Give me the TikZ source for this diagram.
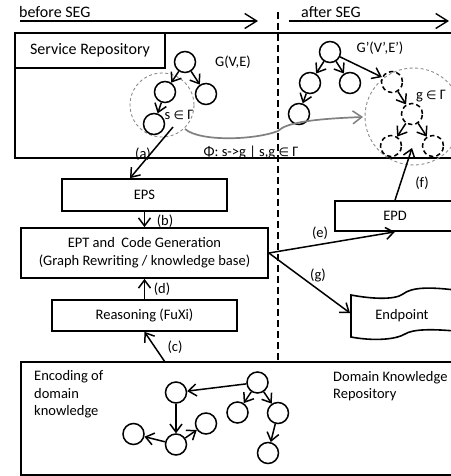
\documentclass[tikz,border=0pt]{standalone}
\usepackage{fontspec}
\setmainfont{Carlito}
\newfontfamily\symfont{DejaVu Sans}
\usetikzlibrary{arrows.meta,calc}
\newcommand{\elem}{{\symfont\fontsize{12}{14}\selectfont ∈}}
\begin{document}
\begin{tikzpicture}[x=1pt,y=-1pt,
  font=\fontsize{14.5}{17.7}\selectfont,
  bigfont/.style={font=\fontsize{16}{19}\selectfont},
  box/.style={draw, line width=1.7pt, inner sep=0pt, align=center},
  gn/.style={circle, draw, line width=1.5pt, minimum size=21pt, inner sep=0pt},
  dn/.style={gn, dash pattern=on 4.5pt off 3pt},
  arr/.style={line width=1.5pt, -{Straight Barb[length=8pt,width=12pt,line width=1.5pt]}},
  toparr/.style={line width=1.4pt, -{Straight Barb[length=12pt,width=15pt,line width=1.4pt]}},
  grayarr/.style={draw=black!50, line width=1.7pt, -{Straight Barb[length=9pt,width=13pt,line width=1.5pt]}},
  grayc/.style={circle, draw=black!45, line width=0.9pt, dash pattern=on 3pt off 2.5pt, inner sep=0pt},
  vdash/.style={line width=1.9pt, dash pattern=on 7pt off 4pt},
  lbl/.style={inner sep=0pt}]
\useasboundingbox (0,0) rectangle (450,476);

% top labels
\node[lbl, bigfont, anchor=west] (bs) at (19,12.5) {before SEG};
\node[lbl, bigfont, anchor=west] (as) at (301,12.5) {after SEG};
\coordinate (b1) at (20,21);
\coordinate (b2) at (258,21);
\coordinate (a1) at (289,21);
\coordinate (a2) at (449,21);
\draw[toparr] (b1) -- (b2);
\draw[toparr] (a1) -- (a2);

% service repository
\node[box, minimum width=441pt, minimum height=125pt] (sr) at (235.5,95.5) {};
\node[box, bigfont, minimum width=150pt, minimum height=35pt] (srl) at (90,50.5) {Service Repository};

% dashed separator
\coordinate (vt) at (278,12);
\coordinate (vb) at (278,362);
\draw[vdash] (vt) -- (vb);

% left graph
\node[grayc, minimum size=64pt] (sc) at (162,105) {};
\node[gn] (l1) at (185,62) {};
\node[gn] (l2) at (165,92) {};
\node[gn] (l3) at (206,94) {};
\node[gn] (l4) at (154,124) {};
\draw[arr] (l1) -- (l2);
\draw[arr] (l1) -- (l3);
\draw[arr] (l2) -- (l4);
\node[lbl] (sl) at (179,115) {s \elem\ Γ};
\node[lbl] (gl) at (233,62) {G(V,E)};

% right graph
\node[grayc, minimum size=97pt] (gc) at (413.5,116.5) {};
\node[gn] (r1) at (330,52) {};
\node[gn] (r2) at (310,83) {};
\node[gn] (r3) at (350,83) {};
\node[gn] (r4) at (299,114) {};
\node[dn] (d1) at (392,82) {};
\node[dn] (d2) at (412,114) {};
\node[dn] (d3) at (391,146) {};
\node[dn] (d4) at (433,146) {};
\draw[arr] (r1) -- (r2);
\draw[arr] (r1) -- (r3);
\draw[arr] (r1) -- (d1);
\draw[arr] (r2) -- (r4);
\draw[arr] (d1) -- (d2);
\draw[arr] (d2) -- (d3);
\draw[arr] (d2) -- (d4);
\node[lbl] (gpl) at (380,48) {G’(V’,E’)};
\node[lbl] (gel) at (431,96) {g \elem\ Γ};

% mapping curve
\coordinate (cs) at (185,129);
\coordinate (ce) at (363,117);
\draw[grayarr] (cs) .. controls (200,142) and (255,140) .. (278,131)
  .. controls (286,123) and (310,119) .. (ce);
\node[lbl] (phi) at (251,153) {Φ: s->g | s,g \elem\ Γ};

% process boxes
\node[box, minimum width=165pt, minimum height=32pt] (eps) at (144.5,195) {EPS};
\node[box, minimum width=247pt, minimum height=50pt] (ept) at (144.5,253)
  {EPT and\ \ Code Generation\\(Graph Rewriting / knowledge base)};
\node[box, minimum width=185pt, minimum height=31pt] (rea) at (144.5,315.5) {Reasoning (FuXi)};
\node[box, minimum width=120pt, minimum height=30pt] (epd) at (395,216) {EPD};

% endpoint document shape
\draw[line width=1.6pt] (455,290) .. controls (430,287) and (412,287) .. (403,294)
  .. controls (395,300) and (372,299) .. (351,295) -- (351,337)
  .. controls (372,341) and (395,340) .. (405,334)
  .. controls (413,329) and (432,329) .. (455,331);
\node[lbl] (endp) at (402,316) {Endpoint};

% domain knowledge repository
\node[box, minimum width=435pt, minimum height=113pt] (dkr) at (238.5,418.5) {};
\node[lbl, anchor=west, align=left] (enc) at (34,394.5) {Encoding of\\domain\\knowledge};
\node[lbl, anchor=west, align=left] (dkt) at (333,386) {Domain Knowledge\\Repository};

\node[gn] (A) at (176,392.5) {};
\node[gn] (B) at (257.5,382.5) {};
\node[gn] (C) at (237.5,412.5) {};
\node[gn] (D) at (278,413) {};
\node[gn] (E) at (176,444.5) {};
\node[gn] (F) at (133.5,434) {};
\node[gn] (G) at (206,423.5) {};
\node[gn] (H) at (268,453) {};
\draw[arr] (B) -- (A);
\draw[arr] (B) -- (C);
\draw[arr] (B) -- (D);
\draw[arr] (A) -- (E);
\draw[arr] (E) -- (F);
\draw[arr] (E) -- (G);
\draw[arr] (D) -- (H);

% connectors
\coordinate (aS) at (173,127);
\coordinate (cS) at (165,362);
\coordinate (fE) at (412,148);
\coordinate (gE) at (350,313);
\draw[arr] (aS) -- ([xshift=-14.5pt]eps.north);
\draw[arr] (eps.south) -- (ept.north);
\draw[arr] (rea.north) -- (ept.south);
\draw[arr] (cS) -- (rea.south);
\draw[arr] (ept.east) -- (epd.south);
\draw[arr] (epd.north) -- (fE);
\draw[arr] (ept.east) -- (gE);

\node[lbl] (la) at (143,154) {(a)};
\node[lbl] (lb) at (165,221) {(b)};
\node[lbl] (lc) at (175,347) {(c)};
\node[lbl] (ld) at (162,289) {(d)};
\node[lbl] (le) at (320,233) {(e)};
\node[lbl] (lf) at (422,183) {(f)};
\node[lbl] (lg) at (318,275) {(g)};
\end{tikzpicture}
\end{document}
